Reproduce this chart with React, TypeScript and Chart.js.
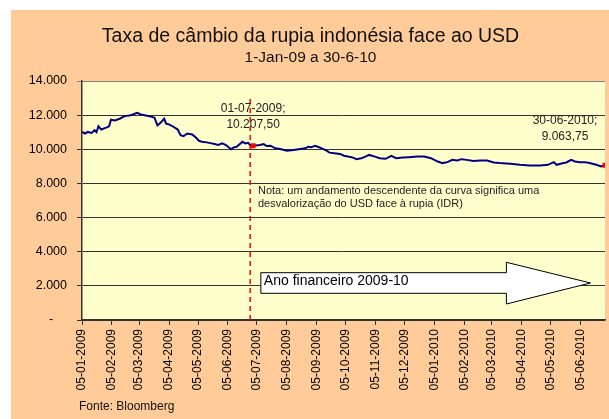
import React, { useEffect, useRef } from "react";
import { Chart, registerables } from "chart.js";

Chart.register(...registerables);

const FONT = "'Liberation Sans', Arial, sans-serif";

const chartTitle = "Taxa de câmbio da rupia indonésia face ao USD";
const chartSubtitle = "1-Jan-09 a 30-6-10";
const sourceText = "Fonte: Bloomberg";
const noteLines = [
  "Nota: um andamento descendente da curva significa uma",
  "desvalorização do USD face à rupia (IDR)",
];
const arrowLabel = "Ano financeiro 2009-10";

// x axis: days counted from the first tick date
const axisStart = "05-01-2009";
const axisEnd = "30-06-2010";
const xTickLabels = [
  "05-01-2009", "05-02-2009", "05-03-2009", "05-04-2009", "05-05-2009", "05-06-2009",
  "05-07-2009", "05-08-2009", "05-09-2009", "05-10-2009", "05-11-2009", "05-12-2009",
  "05-01-2010", "05-02-2010", "05-03-2010", "05-04-2010", "05-05-2010", "05-06-2010",
];
const yTickValues = [0, 2000, 4000, 6000, 8000, 10000, 12000, 14000];

// IDR per USD (days since 05-01-2009)
const days = [
  0, 3, 6, 10, 13, 15, 17, 20, 25, 28, 30, 34, 39, 44, 49, 52, 57, 61, 66, 71,
  75, 78, 81, 85, 87, 90, 95, 99, 102, 105, 109, 114, 117, 121, 124, 129, 134, 137, 141, 145,
  149, 154, 157, 160, 166, 169, 172, 174, 177, 184, 188, 191, 195, 200, 205, 212, 219, 224, 231, 234,
  237, 241, 244, 248, 253, 256, 261, 267, 271, 275, 279, 284, 289, 292, 297, 303, 308, 314, 320, 325,
  332, 338, 347, 354, 361, 368, 373, 378, 383, 388, 393, 398, 405, 412, 419, 426, 432, 443, 453, 463,
  474, 482, 488, 491, 498, 501, 506, 510, 515, 520, 525, 532, 537, 541,
];
const rates = [
  11017, 10925, 11017, 10960, 11115, 11000, 11347, 11156, 11270, 11347, 11734, 11693, 11790, 11942, 11982, 12023, 12139, 12040, 11982, 11925,
  11850, 11404, 11537, 11790, 11503, 11462, 11306, 11156, 10826, 10769, 10925, 10867, 10728, 10497, 10439, 10405, 10347, 10306, 10249, 10347,
  10249, 10000, 10115, 10150, 10440, 10347, 10382, 10249, 10207.5, 10249, 10306, 10190, 10210, 10058, 10017, 9920, 9960, 10000, 10058, 10150,
  10115, 10208, 10150, 10058, 9920, 9804, 9769, 9728, 9620, 9572, 9538, 9422, 9480, 9538, 9670, 9572, 9480, 9440, 9613, 9480,
  9515, 9538, 9572, 9572, 9480, 9283, 9191, 9249, 9382, 9342, 9422, 9380, 9310, 9342, 9342, 9226, 9191, 9150, 9092, 9054,
  9054, 9092, 9247, 9092, 9191, 9226, 9382, 9283, 9247, 9247, 9191, 9092, 8995, 9063.75,
];

const highlightDates = ["01-07-2009", "30-06-2010"];
const highlightRates = [10207.5, 9063.75];
const highlightLabels = [
  ["01-07-2009;", "10.207,50"],
  ["30-06-2010;", "9.063,75"],
];
const fiscalLineDate = "28-06-2009";
const fiscalLineTop = 12950;

// arrow annotation (in axis units)
const arrowStartDate = "09-07-2009";
const arrowHeadDate = "20-03-2010";
const arrowTipDate = "15-06-2010";
const arrowBody = [1564, 2771];
const arrowHead = [937, 3380];

function dayOf(s: string): number {
  const [d, m, y] = s.split("-").map(Number);
  const [d0, m0, y0] = axisStart.split("-").map(Number);
  return Math.round((Date.UTC(y, m - 1, d) - Date.UTC(y0, m0 - 1, d0)) / 86400000);
}

function fmtThousands(v: number): string {
  if (v === 0) return "-    ";
  return String(v).replace(/\B(?=(\d{3})+(?!\d))/g, ".");
}

const tickDays = xTickLabels.map(dayOf);

const decorPlugin = {
  id: "decor",
  beforeDraw(chart: any) {
    const { ctx, chartArea: a, width, height } = chart;
    ctx.save();
    ctx.fillStyle = "#ffffff";
    ctx.fillRect(0, 0, width, height);
    ctx.fillStyle = "#FFCC99";
    ctx.fillRect(11, 10, width - 11, height - 10);
    ctx.fillStyle = "#FFFFCC";
    ctx.fillRect(a.left, a.top, a.right - a.left, a.bottom - a.top);
    ctx.restore();
  },
  afterDatasetsDraw(chart: any) {
    const { ctx } = chart;
    const xs = chart.scales.x;
    const ys = chart.scales.y;
    ctx.save();
    // arrow
    const x0 = xs.getPixelForValue(dayOf(arrowStartDate));
    const xh = xs.getPixelForValue(dayOf(arrowHeadDate));
    const xt = xs.getPixelForValue(dayOf(arrowTipDate));
    const b1 = ys.getPixelForValue(arrowBody[1]);
    const b0 = ys.getPixelForValue(arrowBody[0]);
    const h1 = ys.getPixelForValue(arrowHead[1]);
    const h0 = ys.getPixelForValue(arrowHead[0]);
    const mid = (b0 + b1) / 2;
    ctx.beginPath();
    ctx.moveTo(x0, b1);
    ctx.lineTo(xh, b1);
    ctx.lineTo(xh, h1);
    ctx.lineTo(xt, mid);
    ctx.lineTo(xh, h0);
    ctx.lineTo(xh, b0);
    ctx.lineTo(x0, b0);
    ctx.closePath();
    ctx.fillStyle = "#ffffff";
    ctx.fill();
    ctx.strokeStyle = "#000000";
    ctx.lineWidth = 1;
    ctx.stroke();
    ctx.fillStyle = "#000000";
    ctx.font = `14px ${FONT}`;
    ctx.textAlign = "left";
    ctx.textBaseline = "middle";
    ctx.fillText(arrowLabel, x0 + 3, mid - 2);

    // note
    ctx.fillStyle = "#222222";
    ctx.font = `11px ${FONT}`;
    ctx.fillText(noteLines[0], 258, 191);
    ctx.fillText(noteLines[1], 258, 203.5);

    // highlight labels
    ctx.font = `12px ${FONT}`;
    ctx.textAlign = "center";
    ctx.fillStyle = "#222222";
    const offs = [
      [0, -37],
      [-40, -45],
    ];
    highlightDates.forEach((d, i) => {
      const px = xs.getPixelForValue(dayOf(d));
      const py = ys.getPixelForValue(highlightRates[i]);
      ctx.fillText(highlightLabels[i][0], px + offs[i][0], py + offs[i][1]);
      ctx.fillText(highlightLabels[i][1], px + offs[i][0], py + offs[i][1] + 16);
    });
    ctx.restore();
  },
  afterDraw(chart: any) {
    const { ctx } = chart;
    ctx.save();
    ctx.fillStyle = "#111111";
    ctx.textAlign = "center";
    ctx.textBaseline = "middle";
    ctx.font = `19.5px ${FONT}`;
    ctx.fillText(chartTitle, 310.5, 37);
    ctx.font = `15.5px ${FONT}`;
    ctx.fillText(chartSubtitle, 310.5, 58);
    ctx.textAlign = "left";
    ctx.font = `12px ${FONT}`;
    ctx.fillText(sourceText, 79, 407);
    ctx.restore();
  },
};

export default function App() {
  const ref = useRef<HTMLCanvasElement | null>(null);
  useEffect(() => {
    document.body.style.margin = "0";
    const canvas = ref.current;
    if (!canvas) return;
    Chart.defaults.font.family = FONT;
    const fy = dayOf(fiscalLineDate);
    const chart = new Chart(canvas, {
      type: "line",
      data: {
        datasets: [
          {
            label: "marcas",
            data: highlightDates.map((d, i) => ({ x: dayOf(d), y: highlightRates[i] })),
            showLine: false,
            pointStyle: "rect",
            pointRadius: 3.5,
            backgroundColor: "#FF0000",
            borderColor: "#FF0000",
            borderWidth: 0,
          },
          {
            label: "IDR/USD",
            data: days.map((d, i) => ({ x: d, y: rates[i] })),
            borderColor: "#000080",
            borderWidth: 2,
            pointRadius: 0,
            tension: 0,
            fill: false,
          },
          {
            label: "ano financeiro",
            data: [
              { x: fy, y: 0 },
              { x: fy, y: fiscalLineTop },
            ],
            borderColor: "#FF0000",
            borderWidth: 1.5,
            borderDash: [5, 4],
            pointRadius: 0,
            fill: false,
          },
        ],
      },
      options: {
        animation: false,
        responsive: false,
        devicePixelRatio: 1,
        layout: { padding: { top: 81, left: 0, right: 0, bottom: 0 } },
        plugins: {
          legend: { display: false },
          tooltip: { enabled: false },
          title: { display: false },
        },
        scales: {
          x: {
            type: "linear",
            min: 0,
            max: dayOf(axisEnd),
            afterBuildTicks: (s: any) => {
              s.ticks = tickDays.map((v) => ({ value: v }));
            },
            afterFit: (s: any) => {
              s.height = 99;
            },
            grid: {
              drawOnChartArea: false,
              drawTicks: true,
              tickLength: 5,
              color: "#333333",
            },
            border: { display: true, color: "#333333", width: 1.5 },
            ticks: {
              autoSkip: false,
              maxRotation: 90,
              minRotation: 90,
              padding: 4,
              color: "#000000",
              font: { size: 12, family: FONT },
              callback: (_v: any, i: number) => xTickLabels[i],
            },
          },
          y: {
            type: "linear",
            min: 0,
            max: 14000,
            afterBuildTicks: (s: any) => {
              s.ticks = yTickValues.map((v) => ({ value: v }));
            },
            afterFit: (s: any) => {
              s.width = 82;
            },
            grid: {
              color: (c: any) => (c.tick && c.tick.value === 14000 ? "#808080" : "#333333"),
              lineWidth: 1,
              tickLength: 5,
              drawTicks: true,
            },
            border: { display: true, color: "#333333", width: 1.5 },
            ticks: {
              padding: 10,
              color: "#000000",
              font: { size: 12.5, family: FONT },
              callback: (v: any) => fmtThousands(Number(v)),
            },
          },
        },
      },
      plugins: [decorPlugin],
    } as any);
    return () => chart.destroy();
  }, []);
  return <canvas ref={ref} width={609} height={419} style={{ display: "block" }} />;
}
